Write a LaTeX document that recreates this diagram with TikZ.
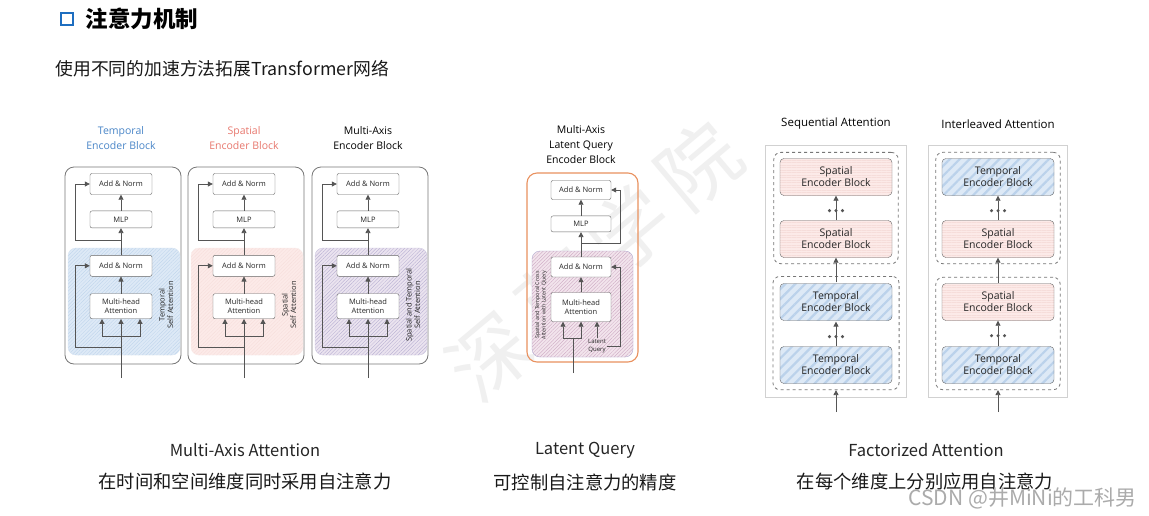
\documentclass[tikz,border=0pt]{standalone}
\usepackage{fontspec}
\setmainfont{Noto Sans CJK SC}
\newfontfamily\diagfont{Open Sans}
\usetikzlibrary{positioning}
\usetikzlibrary{fit}
\usetikzlibrary{arrows.meta}
\usetikzlibrary{patterns.meta}

\definecolor{tempblue}{HTML}{4A86C8}
\definecolor{spatred}{HTML}{E8786E}
\definecolor{iconblue}{HTML}{1E6EC0}
\definecolor{linegray}{HTML}{555555}
\definecolor{tfill}{HTML}{DDE9F6}
\definecolor{tline}{HTML}{BBD2EB}
\definecolor{sfill}{HTML}{FCEAE8}
\definecolor{sline}{HTML}{F6DDDA}
\definecolor{mfill}{HTML}{EAE3EF}
\definecolor{mline}{HTML}{B2A9CF}
\definecolor{lqorange}{HTML}{E9915F}
\definecolor{lqfill}{HTML}{F2E4EC}
\definecolor{lqline}{HTML}{C9A3BE}

\begin{document}
\begin{tikzpicture}[x=1pt, y=-1pt,
    box/.style={draw=linegray!90, rounded corners=2pt, fill=white, minimum width=62pt, inner sep=1pt, align=center, font=\diagfont\fontsize{7.5}{9.5}\selectfont, text=black!85},
    arr/.style={draw=linegray, line width=0.8pt, -{Triangle[length=5pt, width=5pt]}},
    plainline/.style={draw=linegray, line width=0.8pt},
    ttl/.style={align=center, font=\diagfont\fontsize{10.5}{15}\selectfont},
    lbl/.style={align=center, rotate=90, font=\diagfont\fontsize{7.5}{8.5}\selectfont, text=black!85},
    Temporal/.style={draw=linegray!90, rounded corners=4pt, minimum width=112pt, minimum height=37pt, preaction={fill=tfill}, pattern={Lines[angle=45, distance=7pt, line width=2.2pt]}, pattern color=tline, align=center, font=\diagfont\fontsize{10.5}{12}\selectfont, text=black!85},
    Spatial/.style={draw=linegray!90, rounded corners=4pt, minimum width=112pt, minimum height=37pt, preaction={fill=sfill}, pattern={Lines[angle=0, distance=2.5pt, line width=0.3pt]}, pattern color=sline, align=center, font=\diagfont\fontsize{10.5}{12}\selectfont, text=black!85},
    grp/.style={draw=linegray!80, dashed, line width=0.8pt, rounded corners=7pt, inner sep=6pt},
    panel/.style={draw=black!18, line width=0.8pt, inner sep=7pt},
    captxt/.style={font=\fontsize{16.5}{16.5}\selectfont, text=black!85},
    capzh/.style={font=\fontsize{18.3}{18.3}\selectfont, text=black!90},
    wmark/.style={text=black!6, rotate=40, font=\fontsize{80}{80}\selectfont}]

    \fill[white] (0,0) rectangle (1149,515);
    \useasboundingbox (0,0) rectangle (1149,515);

    \node[wmark] (wm1) at (490,357) {深};
    \node[wmark] (wm2) at (559,293) {蓝};
    \node[wmark] (wm3) at (629,229) {学};
    \node[wmark] (wm4) at (698,165) {院};

    \node[draw=iconblue, line width=2.6pt, minimum size=12pt, inner sep=0pt] (icon) at (67,19) {};
    \node[anchor=west, font=\bfseries\fontsize{22.5}{22.5}\selectfont] (title) at (82,19) {注意力机制};
    \node[anchor=west, font=\fontsize{17.8}{17.8}\selectfont, text=black!90] (sub) at (52,69) {使用不同的加速方法拓展Transformer网络};

    \foreach \c/\i/\tcol/\rfill/\rline/\ttext/\ltext in {
        123/1/tempblue/tfill/tline/{Temporal\\Encoder Block}/{Temporal\\Self Attention},
        246/2/spatred/sfill/sline/{Spatial\\Encoder Block}/{Spatial\\Self Attention},
        370/3/black/mfill/mline/{Multi-Axis\\Encoder Block}/{Spatial and Temporal\\Self Attention}}{
        \node[ttl, text=\tcol] (bt\i) at (\c-2,138) {\ttext};
        \draw[draw=linegray!80, line width=0.8pt, rounded corners=9pt] (\c-58,167) rectangle (\c+58,364);
        \fill[\rfill, rounded corners=8pt] (\c-55,248) rectangle (\c+57,355);
        \draw[pattern={Lines[angle=45, distance=2.5pt, line width=0.3pt]}, pattern color=\rline, draw=\rline!60, rounded corners=8pt] (\c-55,248) rectangle (\c+57,355);

        \node[box, minimum height=21pt] (at\i) at (\c-2,184) {Add \& Norm};
        \node[box, minimum height=17pt, below=16pt of at\i] (mlp\i) {MLP};
        \node[box, minimum height=21pt, below=27pt of mlp\i] (al\i) {Add \& Norm};
        \node[box, minimum height=25pt, below=17pt of al\i] (mha\i) {Multi-head\\Attention};
        \node[lbl] (sa\i) at (\c+43,305) {\ltext};

        \coordinate (in\i) at (\c-2,378);
        \coordinate (bar\i) at (\c-2,336);
        \coordinate (rl\i) at (\c-2,347);
        \coordinate (rt\i) at (\c-2,240);
        \draw[plainline] (in\i) -- (bar\i);
        \draw[arr] (bar\i) -- (mha\i.south);
        \draw[arr] (bar\i) -| ([xshift=-19pt]mha\i.south);
        \draw[arr] (bar\i) -| ([xshift=19pt]mha\i.south);
        \draw[arr] (mha\i) -- (al\i);
        \draw[arr] (al\i) -- (mlp\i);
        \draw[arr] (mlp\i) -- (at\i);
        \draw[arr] (rl\i) -- ++(-46,0) |- (al\i.west);
        \draw[arr] (rt\i) -- ++(-46,0) |- (at\i.west);
    }

    \node[ttl] (lqt) at (581,145) {Multi-Axis\\Latent Query\\Encoder Block};
    \draw[lqorange, line width=1.1pt, rounded corners=10pt] (527,173) rectangle (638,362);
    \fill[lqfill, rounded corners=8pt] (532,251) rectangle (633,357);
    \draw[pattern={Lines[angle=45, distance=2.5pt, line width=0.3pt]}, pattern color=lqline, draw=mline, rounded corners=8pt] (532,251) rectangle (633,357);

    \node[box, minimum width=60pt, minimum height=19pt] (lat) at (581,190) {Add \& Norm};
    \node[box, minimum width=60pt, minimum height=16pt, below=16pt of lat] (lmlp) {MLP};
    \node[box, minimum width=60pt, minimum height=20pt] (lal) at (581,267) {Add \& Norm};
    \node[box, minimum width=60pt, minimum height=29pt] (lmha) at (581,307) {Multi-head\\Attention};
    \node[lbl, font=\diagfont\fontsize{5.3}{6.3}\selectfont] (lsa) at (541,305) {Spatial and Temporal Cross\\Attention with Latent Query};
    \node[align=center, inner sep=1pt, font=\diagfont\fontsize{6}{8}\selectfont, text=black!85] (lq) at (597,346) {Latent\\Query};

    \coordinate (lin) at (573,373);
    \coordinate (lbar) at (573,338);
    \coordinate (lrt) at (581,243);
    \draw[plainline] (lin) -- (lbar);
    \draw[arr] (lbar) -| (lmha.south);
    \draw[arr] (lbar) -| ([xshift=-18pt]lmha.south);
    \draw[arr] (lq.north) -- (lq.north |- lmha.south);
    \draw[arr] (lmha) -- (lal);
    \draw[arr] (lal) -- (lmlp);
    \draw[arr] (lmlp) -- (lat);
    \draw[arr] (lq.east) -- ++(13,0) |- (lal.east);
    \draw[arr] (lrt) -- ++(39,0) |- (lat.east);

    \foreach \px/\j/\ka/\kb/\kc/\kd/\ftext in {
        836/1/Spatial/Spatial/Temporal/Temporal/Sequential Attention,
        998/2/Temporal/Spatial/Spatial/Temporal/Interleaved Attention}{
        \node[ttl, font=\diagfont\fontsize{11.5}{14}\selectfont] (ft\j) at (\px,124) {\ftext};
        \node[\ka] (fa\j) at (\px,177) {\ka\\Encoder Block};
        \node[\kb] (fb\j) at (\px,239) {\kb\\Encoder Block};
        \node[\kc] (fc\j) at (\px,302) {\kc\\Encoder Block};
        \node[\kd] (fd\j) at (\px,365) {\kd\\Encoder Block};
        \node[grp, fit=(fa\j)(fb\j)] (ga\j) {};
        \node[grp, fit=(fc\j)(fd\j)] (gb\j) {};
        \node[panel, fit=(ga\j)(gb\j)] (pn\j) {};

        \coordinate (fin\j) at (\px,412);
        \draw[arr] (fin\j) -- (gb\j.south);
        \draw[arr] (fd\j) -- (fc\j);
        \draw[arr] (fc\j) -- (fb\j);
        \draw[arr] (fb\j) -- (fa\j);
        \foreach \dx in {-6.5,0,6.5}{
            \fill[linegray] ([xshift=\dx pt, yshift=-15pt]fa\j.south) circle (1.7pt);
            \fill[linegray] ([xshift=\dx pt, yshift=-15pt]fc\j.south) circle (1.7pt);
        }
    }

    \node[captxt] (c1) at (245,450) {Multi-Axis Attention};
    \node[capzh] (z1) at (245,482) {在时间和空间维度同时采用自注意力};
    \node[captxt] (c2) at (585,450) {Latent Query};
    \node[capzh] (z2) at (585,482) {可控制自注意力的精度};
    \node[captxt] (c3) at (926,450) {Factorized Attention};
    \node[capzh] (z3) at (925,482) {在每个维度上分别应用自注意力};
    \node[anchor=west, text=black!33, font=\fontsize{21}{21}\selectfont] (csdn) at (905,498) {CSDN @井MiNi的工科男};
\end{tikzpicture}
\end{document}
